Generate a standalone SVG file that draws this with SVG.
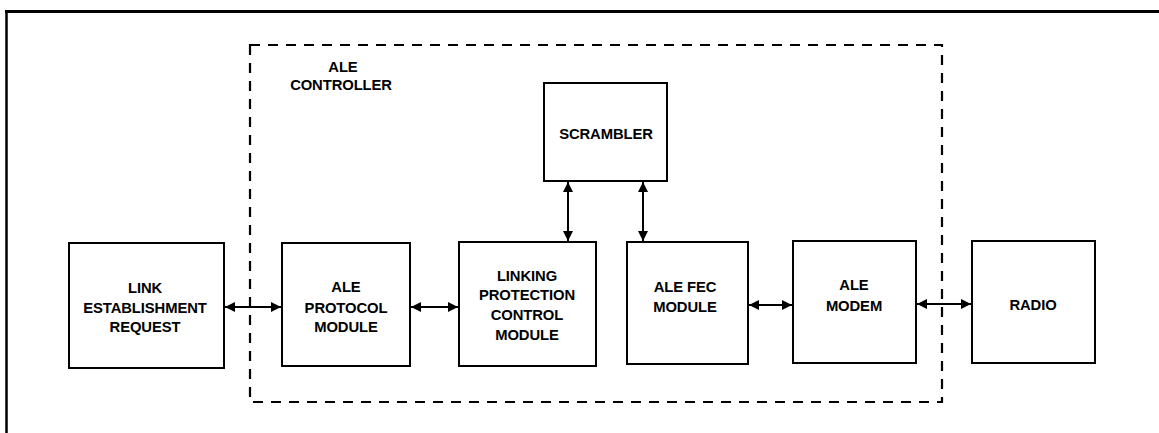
<svg xmlns="http://www.w3.org/2000/svg" width="1159" height="433" viewBox="0 0 1159 433">
<defs>
<style>
.box{fill:#fff;stroke:#000;stroke-width:2}
.lbl{font-family:"Liberation Sans",Arial,sans-serif;font-weight:bold;font-size:14.8px;fill:#000;text-anchor:middle;letter-spacing:-0.1px}
.con{stroke:#000;stroke-width:2;fill:none;marker-start:url(#ah);marker-end:url(#ah)}
.dash{fill:none;stroke:#000;stroke-width:2.2;stroke-dasharray:10 8}
</style>
<marker id="ah" viewBox="0 0 10 10" refX="10" refY="5" markerWidth="10" markerHeight="10" markerUnits="userSpaceOnUse" orient="auto-start-reverse">
<path d="M0,0 L10,5 L0,10 Z" fill="#000"/>
</marker>
</defs>
<rect width="1159" height="433" fill="#fff"/>
<g id="frame">
<line x1="5" y1="11.5" x2="1159" y2="11.5" stroke="#000" stroke-width="3"/>
<line x1="6.5" y1="10" x2="6.5" y2="433" stroke="#000" stroke-width="2.5"/>
</g>
<g id="ale-controller">
<rect class="dash" x="250" y="45" width="692" height="357"/>
<text class="lbl" x="343" y="72">ALE</text>
<text class="lbl" x="341" y="90">CONTROLLER</text>
</g>
<g id="link-request">
<rect class="box" x="69" y="243" width="155" height="125"/>
<text class="lbl" x="145" y="293">LINK</text>
<text class="lbl" x="145" y="313">ESTABLISHMENT</text>
<text class="lbl" x="145" y="332">REQUEST</text>
</g>
<g id="protocol">
<rect class="box" x="282" y="243" width="128" height="123"/>
<text class="lbl" x="346" y="292">ALE</text>
<text class="lbl" x="346" y="313">PROTOCOL</text>
<text class="lbl" x="346" y="332">MODULE</text>
</g>
<g id="lpcm">
<rect class="box" x="459" y="242" width="137" height="124"/>
<text class="lbl" x="527" y="281">LINKING</text>
<text class="lbl" x="527" y="300">PROTECTION</text>
<text class="lbl" x="527" y="320">CONTROL</text>
<text class="lbl" x="527" y="340">MODULE</text>
</g>
<g id="scrambler">
<rect class="box" x="544" y="83" width="123" height="98"/>
<text class="lbl" x="606" y="139">SCRAMBLER</text>
</g>
<g id="fec">
<rect class="box" x="627" y="242" width="121" height="122"/>
<text class="lbl" x="685" y="292">ALE FEC</text>
<text class="lbl" x="685" y="312">MODULE</text>
</g>
<g id="modem">
<rect class="box" x="793" y="241" width="123" height="122"/>
<text class="lbl" x="854" y="290">ALE</text>
<text class="lbl" x="854" y="311">MODEM</text>
</g>
<g id="radio">
<rect class="box" x="972" y="241" width="123" height="122"/>
<text class="lbl" x="1033" y="310">RADIO</text>
</g>
<g id="connectors">
<line class="con" x1="225" y1="307" x2="281" y2="307"/>
<line class="con" x1="411" y1="307" x2="458" y2="307"/>
<line class="con" x1="568" y1="182" x2="568" y2="241"/>
<line class="con" x1="643" y1="182" x2="643" y2="241"/>
<line class="con" x1="749" y1="305" x2="792" y2="305"/>
<line class="con" x1="917" y1="304" x2="971" y2="304"/>
</g>
</svg>
